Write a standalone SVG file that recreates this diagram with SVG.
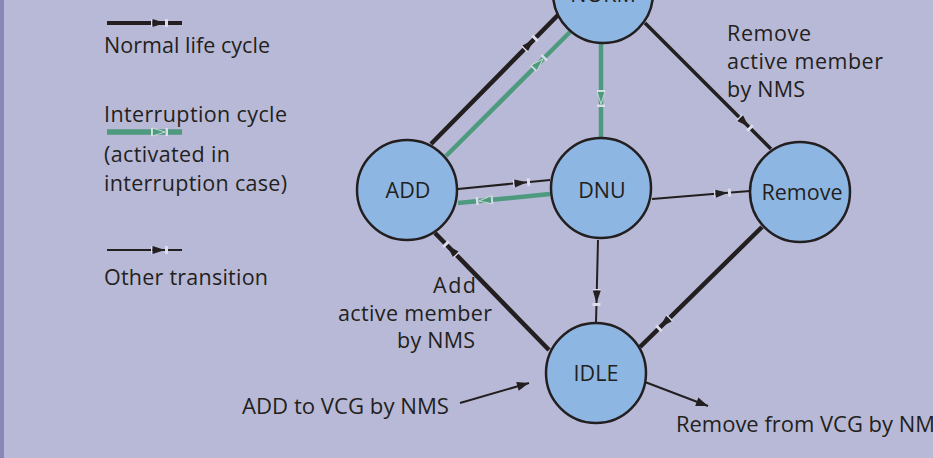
<svg xmlns="http://www.w3.org/2000/svg" width="933" height="458" viewBox="0 0 933 458">
<style>
text{font-family:"Open Sans","Liberation Sans",Arial,sans-serif;font-size:21.5px;fill:#231F20}
.node circle{fill:#8EB6E2;stroke:#231F20;stroke-width:2.5}
.lbl{text-anchor:middle}
.k{stroke:#231F20;fill:none;marker-mid:url(#mk)}
.g{stroke:#4E9A7E;fill:none;stroke-width:4.5;marker-mid:url(#mg)}
.thick{stroke-width:4.5}
.med{stroke-width:3.5}
.thin{stroke-width:2}
.e{stroke:#231F20;fill:none;stroke-width:2;marker-end:url(#me)}
</style>
<defs>
<marker id="mk" markerUnits="userSpaceOnUse" orient="auto" refX="0" refY="0" markerWidth="24" markerHeight="14" viewBox="-18 -7 24 14" overflow="visible">
<rect x="-14" y="-4" width="1.5" height="8" fill="#DCDCEC"/>
<polygon points="-12.5,-4 0,0 -12.5,4" fill="#231F20"/>
<rect x="0" y="-4" width="3" height="8" fill="#DCDCEC"/>
</marker>
<marker id="mg" markerUnits="userSpaceOnUse" orient="auto" refX="0" refY="0" markerWidth="24" markerHeight="14" viewBox="-18 -7 24 14" overflow="visible">
<rect x="-14" y="-4" width="1.5" height="8" fill="#DCDCEC"/>
<polygon points="-12.5,-4 0,0 -12.5,4" fill="#4E9A7E" stroke="#DCE8E4" stroke-width="0.8"/>
<rect x="0.5" y="-4" width="2.5" height="8" fill="#DCDCEC"/>
</marker>
<marker id="me" markerUnits="userSpaceOnUse" orient="auto" refX="0" refY="0" markerWidth="16" markerHeight="12" viewBox="-14 -6 16 12" overflow="visible">
<polygon points="-12,-4.5 0,0 -12,4.5" fill="#231F20"/>
</marker>
</defs>
<rect width="933" height="458" fill="#B8B9D6"/>
<rect width="4" height="458" fill="#8A87B7"/>

<g id="legend">
<path class="k" style="stroke-width:4" d="M107 23 L165 23 L182 23"/>
<text x="104" y="53" textLength="166">Normal life cycle</text>
<text x="104" y="122" textLength="183">Interruption cycle</text>
<path class="g" style="stroke-width:5.5" d="M107 132 L165 132 L182 132"/>
<text x="104" y="162" textLength="126">(activated in</text>
<text x="104" y="191" textLength="183">interruption case)</text>
<path class="k" style="stroke-width:2" d="M107 250 L165 250 L182 250"/>
<text x="104" y="285" textLength="164">Other transition</text>
</g>

<g id="connectors">
<path class="k thick" d="M431 144 L534 39.4 L558 15"/>
<path class="g" d="M446 156 L543 59 L570 32"/>
<path class="g" d="M601 43 L601 104 L601 137"/>
<path class="k thin" d="M458 189 L527 182.2 L550 180"/>
<path class="g" d="M550 194 L479 201 L458 203"/>
<path class="k med" d="M645 23 L749 127 L771 149"/>
<path class="k thin" d="M652 199 L728 192.8 L750 191"/>
<path class="k thin" d="M598 240 L596.5 303 L596 322"/>
<path class="k thick" d="M549 350 L447 245.3 L435 233"/>
<path class="k thick" d="M762 227 L660 327.3 L640 347"/>
<path class="e" d="M460 403 L529 383"/>
<path class="e" d="M645 382 L708 406"/>
</g>

<g id="node-norm" class="node"><circle cx="603" cy="-7" r="50"/><text class="lbl" x="603" y="1.5">NORM</text></g>
<g id="node-add" class="node"><circle cx="407" cy="190" r="50"/><text class="lbl" x="408" y="198">ADD</text></g>
<g id="node-dnu" class="node"><circle cx="601" cy="188" r="50"/><text class="lbl" x="602" y="198">DNU</text></g>
<g id="node-remove" class="node"><circle cx="800" cy="192" r="50"/><text class="lbl" x="802" y="200">Remove</text></g>
<g id="node-idle" class="node"><circle cx="596" cy="373" r="50"/><text class="lbl" x="596" y="381">IDLE</text></g>

<g id="labels">
<text x="727" y="41" textLength="84">Remove</text>
<text x="727" y="69" textLength="156">active member</text>
<text x="727" y="97" textLength="78">by NMS</text>
<text x="433" y="293" textLength="43">Add</text>
<text x="338" y="321" textLength="154">active member</text>
<text x="397" y="348" textLength="78">by NMS</text>
<text x="242" y="414" textLength="207" lengthAdjust="spacingAndGlyphs">ADD to VCG by NMS</text>
<text x="676" y="432" textLength="271" lengthAdjust="spacingAndGlyphs">Remove from VCG by NMS</text>
</g>
</svg>
